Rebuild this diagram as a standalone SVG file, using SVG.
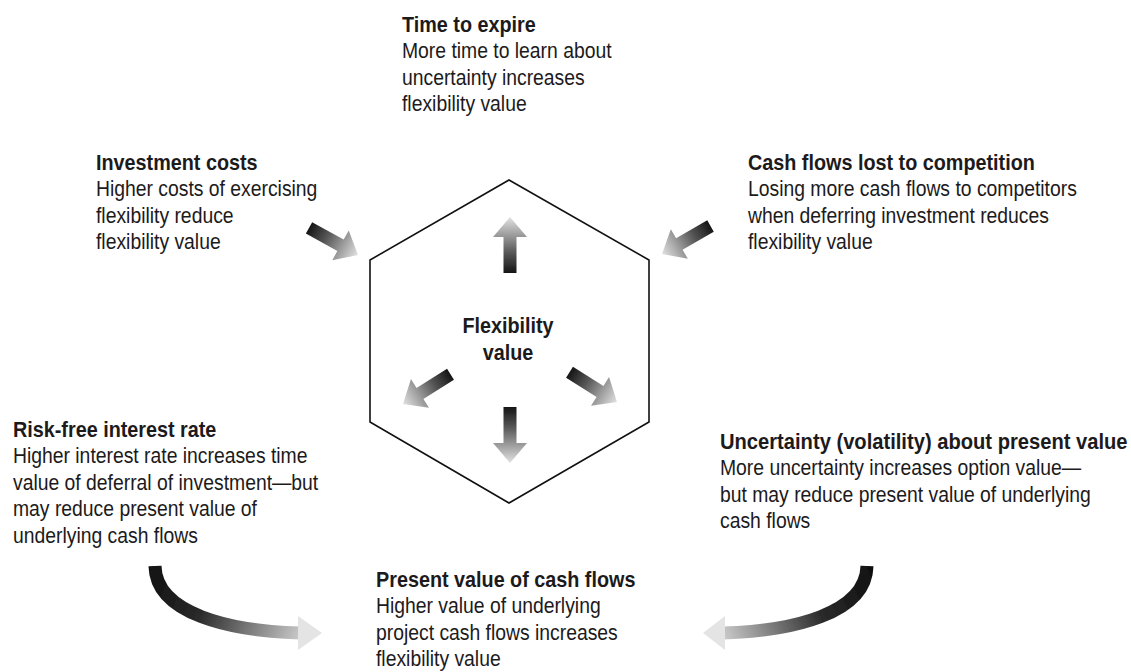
<svg xmlns="http://www.w3.org/2000/svg" xmlns:xlink="http://www.w3.org/1999/xlink" width="1131" height="672" viewBox="0 0 1131 672">
<style>
text{font-family:"Liberation Sans",Arial,sans-serif;font-size:21.5px;fill:#1c1a1b}
.h{font-weight:bold;font-size:22px}
.hex{fill:#fff;stroke:#111;stroke-width:1.6}
</style>
<defs>
<linearGradient id="ag" x1="0" y1="0" x2="1" y2="0">
<stop offset="0" stop-color="#151515"/>
<stop offset="0.35" stop-color="#555"/>
<stop offset="1" stop-color="#e2e2e2"/>
</linearGradient>
<linearGradient id="cl" gradientUnits="userSpaceOnUse" x1="150" y1="566" x2="320" y2="633">
<stop offset="0" stop-color="#111"/>
<stop offset="0.35" stop-color="#2a2a2a"/>
<stop offset="1" stop-color="#e4e4e4"/>
</linearGradient>
<linearGradient id="cr" gradientUnits="userSpaceOnUse" x1="868" y1="566" x2="705" y2="633">
<stop offset="0" stop-color="#111"/>
<stop offset="0.35" stop-color="#2a2a2a"/>
<stop offset="1" stop-color="#e4e4e4"/>
</linearGradient>
<filter id="soft" x="-20%" y="-20%" width="140%" height="140%"><feGaussianBlur stdDeviation="0.6"/></filter>
<polygon id="arr" points="-56,-6.5 -20,-6.5 -20,-17 0,0 -20,17 -20,6.5 -56,6.5" fill="url(#ag)"/>
</defs>
<rect width="1131" height="672" fill="#fff"/>

<g id="node-flex">
<polygon class="hex" points="509,180 649,260 649,422 509,503 370,422 370,260"/>
<g transform="translate(508,0) scale(0.9,1)">
<text class="h" x="0" y="333" text-anchor="middle">Flexibility</text>
<text class="h" x="0" y="360" text-anchor="middle">value</text>
</g>
</g>

<g id="node-time" transform="translate(402,0) scale(0.9,1)">
<text class="h" x="0" y="32">Time to expire</text>
<text x="0" y="58.5">More time to learn about</text>
<text x="0" y="85">uncertainty increases</text>
<text x="0" y="111.5">flexibility value</text>
</g>

<g id="node-invest" transform="translate(96,0) scale(0.9,1)">
<text class="h" x="0" y="170">Investment costs</text>
<text x="0" y="196.5">Higher costs of exercising</text>
<text x="0" y="223">flexibility reduce</text>
<text x="0" y="249.5">flexibility value</text>
</g>

<g id="node-cash" transform="translate(748,0) scale(0.9,1)">
<text class="h" x="0" y="170">Cash flows lost to competition</text>
<text x="0" y="196.5">Losing more cash flows to competitors</text>
<text x="0" y="223">when deferring investment reduces</text>
<text x="0" y="249.5">flexibility value</text>
</g>

<g id="node-riskfree" transform="translate(13,0) scale(0.9,1)">
<text class="h" x="0" y="437">Risk-free interest rate</text>
<text x="0" y="463.5">Higher interest rate increases time</text>
<text x="0" y="490">value of deferral of investment—but</text>
<text x="0" y="516.5">may reduce present value of</text>
<text x="0" y="543">underlying cash flows</text>
</g>

<g id="node-uncertainty" transform="translate(720,0) scale(0.9,1)">
<text class="h" x="0" y="449" style="font-size:22.4px">Uncertainty (volatility) about present value</text>
<text x="0" y="475.5">More uncertainty increases option value—</text>
<text x="0" y="502">but may reduce present value of underlying</text>
<text x="0" y="528.5">cash flows</text>
</g>

<g id="node-pv" transform="translate(376,0) scale(0.9,1)">
<text class="h" x="0" y="587">Present value of cash flows</text>
<text x="0" y="613.5">Higher value of underlying</text>
<text x="0" y="640">project cash flows increases</text>
<text x="0" y="666.5">flexibility value</text>
</g>

<g id="connectors" filter="url(#soft)">
<use xlink:href="#arr" transform="translate(358,255) rotate(29)"/>
<use xlink:href="#arr" transform="translate(662,254) rotate(150)"/>
<use xlink:href="#arr" transform="translate(510,217) rotate(-90)"/>
<use xlink:href="#arr" transform="translate(510,463) rotate(90)"/>
<use xlink:href="#arr" transform="translate(403,404) rotate(148)"/>
<use xlink:href="#arr" transform="translate(617,402) rotate(32)"/>
<path d="M155,566 C156,614 230,631 300,633" fill="none" stroke="url(#cl)" stroke-width="13"/>
<polygon points="298,616 322,633 298,650" fill="#e4e4e4"/>
<path d="M867,566 C866,614 792,631 723,633" fill="none" stroke="url(#cr)" stroke-width="13"/>
<polygon points="725,616 703,633 725,650" fill="#e4e4e4"/>
</g>
</svg>
